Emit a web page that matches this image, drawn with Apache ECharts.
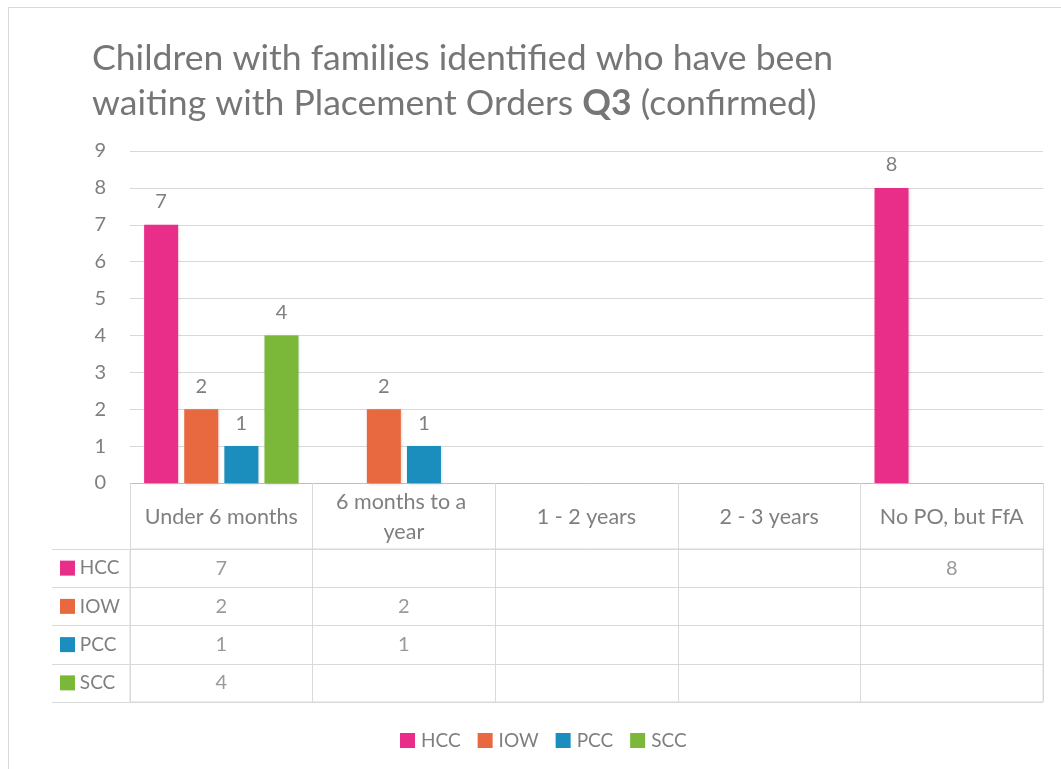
<!DOCTYPE html>
<html>
<head>
    <meta charset="utf-8">
    <title>Children waiting with Placement Orders Q3</title>
    <script src="https://cdn.jsdelivr.net/npm/echarts@6.0.0/dist/echarts.min.js"></script>
    <style>
        html, body { margin: 0; padding: 0; background: #fff; }
        #main { width: 1061px; height: 769px; }
    </style>
</head>
<body>
    <div id="main"></div>
    <script>
        // data
        const categories = ['Under 6 months', '6 months to a year', '1 - 2 years', '2 - 3 years', 'No PO, but FfA'];
        const seriesNames = ['HCC', 'IOW', 'PCC', 'SCC'];
        const hcc = [7, null, null, null, 8];
        const iow = [2, 2, null, null, null];
        const pcc = [1, 1, null, null, null];
        const scc = [4, null, null, null, null];
        const yTicks = [0, 1, 2, 3, 4, 5, 6, 7, 8, 9];

        const colors = ['#E92E8A', '#E8693F', '#1B8EBD', '#7BB83A'];
        const textGrey = '#7f7f7f';
        const lineGrey = '#d9d9d9';
        const font = 'Lato';
        const values = [hcc, iow, pcc, scc];

        // cells of the data table under the chart
        const tableCells = [];
        values.forEach((arr, row) => {
            arr.forEach((v, col) => {
                if (v !== null) tableCells.push([col, row, v]);
            });
        });

        const chart = echarts.init(document.getElementById('main'));

        const barSeries = seriesNames.map((name, i) => ({
            name: name,
            type: 'bar',
            xAxisIndex: 0,
            yAxisIndex: 0,
            data: values[i],
            barWidth: 34,
            barGap: '18%',
            itemStyle: {
                color: colors[i],
                shadowColor: 'rgba(0,0,0,0.18)',
                shadowBlur: 3,
                shadowOffsetX: 1,
                shadowOffsetY: 1
            },
            label: {
                show: true,
                position: 'top',
                distance: 13,
                color: textGrey,
                fontFamily: font,
                fontSize: 20
            }
        }));

        const option = {
            animation: false,
            textStyle: { fontFamily: font },
            graphic: [{
                type: 'rect',
                shape: { x: 8.5, y: 7.5, width: 1100, height: 800 },
                style: { fill: 'none', stroke: lineGrey, lineWidth: 1 },
                silent: true
            }],
            title: {
                text: 'Children with families identified who have been\nwaiting with Placement Orders {b|Q3} (confirmed)',
                left: 87,
                top: 31,
                textStyle: {
                    fontFamily: font,
                    fontSize: 35.6,
                    fontWeight: 'normal',
                    color: '#767676',
                    lineHeight: 45,
                    rich: {
                        b: { fontFamily: font, fontSize: 35.6, fontWeight: 'bold', color: '#767676', lineHeight: 45 }
                    }
                }
            },
            legend: {
                data: seriesNames,
                left: 400,
                top: 731,
                padding: 0,
                icon: 'rect',
                itemWidth: 15,
                itemHeight: 15,
                itemGap: 17,
                textStyle: { color: textGrey, fontSize: 19, fontFamily: font, padding: [0, 0, 0, 1] }
            },
            grid: [
                { left: 130, top: 151, width: 913, height: 332 },
                { left: 130, top: 549, width: 913, height: 153, show: true, borderColor: lineGrey, borderWidth: 1 }
            ],
            xAxis: [{
                type: 'category',
                gridIndex: 0,
                data: categories,
                axisLine: { show: true, lineStyle: { color: '#bfbfbf', width: 1 } },
                axisTick: { show: true, interval: 0, length: 66, lineStyle: { color: lineGrey } },
                axisLabel: {
                    interval: 0,
                    margin: 34,
                    color: textGrey,
                    fontSize: 21.5,
                    fontFamily: font,
                    lineHeight: 30,
                    width: 165,
                    overflow: 'break',
                    verticalAlign: 'middle'
                },
                splitLine: { show: false }
            }, {
                type: 'category',
                gridIndex: 1,
                data: categories,
                position: 'top',
                axisLine: { show: false },
                axisTick: { show: false },
                axisLabel: { show: false },
                splitLine: { show: true, interval: 0, lineStyle: { color: lineGrey } }
            }],
            yAxis: [{
                type: 'value',
                gridIndex: 0,
                min: 0,
                max: yTicks[yTicks.length - 1],
                interval: 1,
                axisLine: { show: false },
                axisTick: { show: false },
                axisLabel: { color: textGrey, fontSize: 20, fontFamily: font, margin: 24 },
                splitLine: { lineStyle: { color: lineGrey } }
            }, {
                type: 'category',
                gridIndex: 1,
                data: seriesNames,
                inverse: true,
                axisLine: { show: false },
                axisTick: { show: true, interval: 0, length: 78, lineStyle: { color: lineGrey } },
                axisLabel: {
                    interval: 0,
                    align: 'left',
                    margin: 70,
                    fontFamily: font,
                    fontSize: 19,
                    color: textGrey,
                    formatter: (v, i) => '{s' + i + '|} ' + v,
                    rich: Object.fromEntries(colors.map((c, i) => ['s' + i, { backgroundColor: c, width: 15, height: 15 }]))
                },
                splitLine: { show: true, interval: 0, lineStyle: { color: lineGrey } }
            }, {
                type: 'category',
                gridIndex: 1,
                data: seriesNames,
                offset: 78,
                axisLine: { show: true, lineStyle: { color: lineGrey } },
                axisTick: { show: false },
                axisLabel: { show: false },
                splitLine: { show: false }
            }],
            series: barSeries.concat([{
                name: 'table',
                type: 'scatter',
                xAxisIndex: 1,
                yAxisIndex: 1,
                data: tableCells,
                symbolSize: 1,
                itemStyle: { color: 'rgba(0,0,0,0)' },
                silent: true,
                label: {
                    show: true,
                    position: 'inside',
                    color: textGrey,
                    fontFamily: font,
                    fontSize: 20,
                    formatter: p => p.value[2]
                }
            }])
        };

        chart.setOption(option);
    </script>
</body>
</html>
